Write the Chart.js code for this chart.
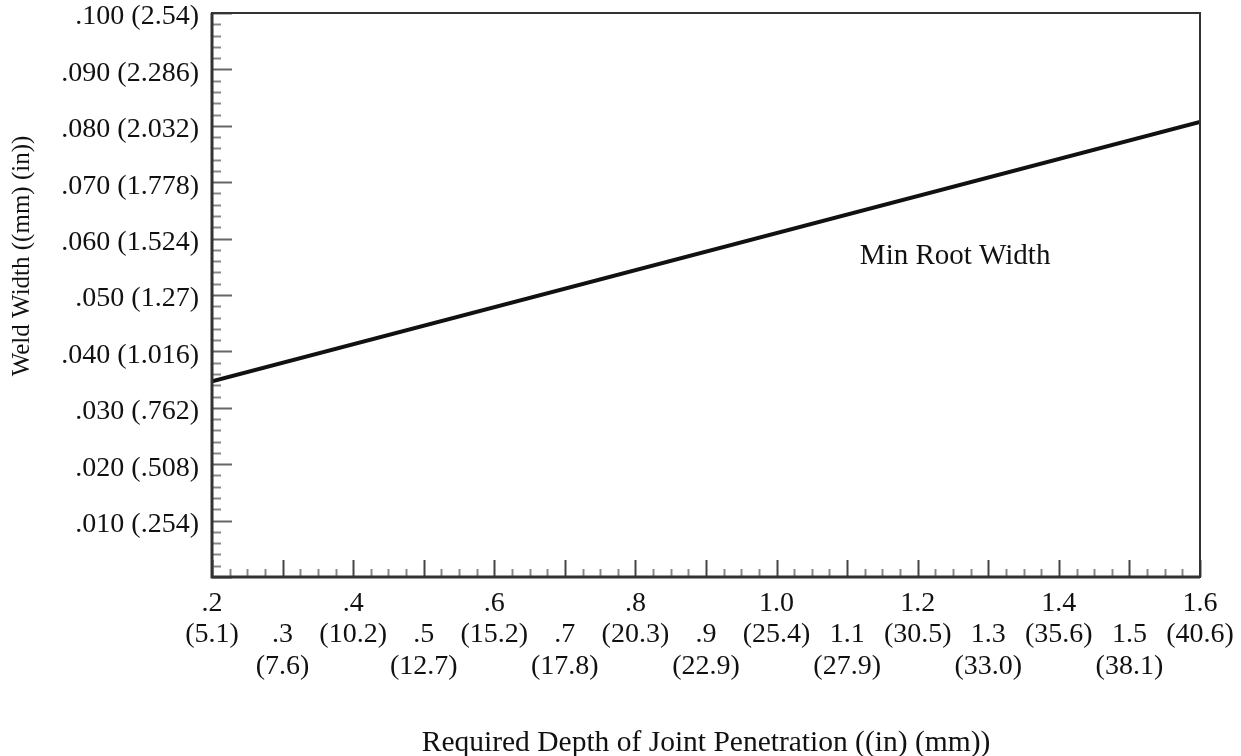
<!DOCTYPE html>
<html>
<head>
<meta charset="utf-8">
<script src="https://cdn.jsdelivr.net/npm/chart.js@4"></script>
<style>
  body { margin: 0; background: #fff; }
  #wrap { width: 1241px; height: 756px; }
</style>
</head>
<body>
<div id="wrap"><canvas id="weldChart"></canvas></div>
<script>
// data
const depthIn = [0.2, 1.6];
const minRootWidth = [0.0347, 0.0807];

const xTickIn = ['.2', '.3', '.4', '.5', '.6', '.7', '.8', '.9', '1.0', '1.1', '1.2', '1.3', '1.4', '1.5', '1.6'];
const xTickMm = ['(5.1)', '(7.6)', '(10.2)', '(12.7)', '(15.2)', '(17.8)', '(20.3)', '(22.9)', '(25.4)', '(27.9)', '(30.5)', '(33.0)', '(35.6)', '(38.1)', '(40.6)'];
const yTickLabels = ['', '.010 (.254)', '.020 (.508)', '.030 (.762)', '.040 (1.016)', '.050 (1.27)', '.060 (1.524)', '.070 (1.778)', '.080 (2.032)', '.090 (2.286)', '.100 (2.54)'];

const serif = '"Liberation Serif", "DejaVu Serif", serif';

// frame + inward tick marks, all placed through the scales
const frameTicks = {
  id: 'frameTicks',
  afterDraw(chart) {
    const ctx = chart.ctx;
    const a = chart.chartArea;
    const xs = chart.scales.x, ys = chart.scales.y;
    ctx.save();
    ctx.lineCap = 'butt';
    // x ticks
    for (let i = 0; i <= 56; i++) {
      const v = 0.2 + i * 0.025;
      const px = Math.round(xs.getPixelForValue(v)) + 0.5;
      const major = i % 4 === 0;
      ctx.strokeStyle = major ? '#444' : '#888';
      ctx.lineWidth = 2;
      ctx.beginPath();
      ctx.moveTo(px, a.bottom);
      ctx.lineTo(px, a.bottom - (major ? 17 : 8));
      ctx.stroke();
    }
    // y ticks
    for (let i = 0; i <= 50; i++) {
      const v = i * 0.002;
      const py = Math.round(ys.getPixelForValue(v)) + 0.5;
      const major = i % 5 === 0;
      ctx.strokeStyle = major ? '#666' : '#888';
      ctx.lineWidth = 2;
      ctx.beginPath();
      ctx.moveTo(a.left, py);
      ctx.lineTo(a.left + (major ? 20 : 9), py);
      ctx.stroke();
    }
    // frame
    ctx.strokeStyle = '#333';
    ctx.lineWidth = 2;
    ctx.strokeRect(a.left, a.top, a.right - a.left, a.bottom - a.top);
    ctx.lineWidth = 3;
    ctx.beginPath();
    ctx.moveTo(a.left, a.top);
    ctx.lineTo(a.left, a.bottom);
    ctx.lineTo(a.right, a.bottom);
    ctx.stroke();
    // series label
    ctx.fillStyle = '#111';
    ctx.font = '29px ' + serif;
    ctx.textBaseline = 'middle';
    ctx.textAlign = 'left';
    ctx.fillText('Min Root Width', xs.getPixelForValue(1.118), ys.getPixelForValue(0.0569));
    // y axis title
    ctx.translate(22, 256);
    ctx.rotate(-Math.PI / 2);
    ctx.textAlign = 'center';
    ctx.font = '25px ' + serif;
    ctx.fillText('Weld Width ((mm) (in))', 0, 0);
    ctx.restore();
  }
};

new Chart(document.getElementById('weldChart'), {
  type: 'line',
  data: {
    datasets: [{
      label: 'Min Root Width',
      data: depthIn.map((d, i) => ({ x: d, y: minRootWidth[i] })),
      borderColor: '#111',
      borderWidth: 4,
      pointRadius: 0,
      fill: false
    }]
  },
  options: {
    responsive: true,
    maintainAspectRatio: false,
    animation: false,
    layout: { padding: { top: 13, right: 41, left: 0, bottom: 0 } },
    plugins: { legend: { display: false }, tooltip: { enabled: false } },
    scales: {
      x: {
        type: 'linear',
        min: 0.2,
        max: 1.6,
        afterFit(s) { s.height = 179; s.paddingLeft = 0; s.paddingRight = 0; },
        grid: { display: false },
        border: { display: false },
        ticks: {
          stepSize: 0.1,
          autoSkip: false,
          maxRotation: 0,
          padding: 3,
          color: '#111',
          font: { family: serif, size: 28, lineHeight: 1.12 },
          callback(v, i) {
            return i % 2 === 0 ? [xTickIn[i], xTickMm[i]] : ['', xTickIn[i], xTickMm[i]];
          }
        },
        title: {
          display: true,
          text: 'Required Depth of Joint Penetration ((in) (mm))',
          color: '#111',
          font: { family: serif, size: 29.5, lineHeight: 0.85 },
          padding: { top: 0, bottom: 0 }
        }
      },
      y: {
        min: 0,
        max: 0.1,
        afterFit(s) { s.width = 212; s.paddingTop = 0; s.paddingBottom = 0; },
        grid: { display: false },
        border: { display: false },
        ticks: {
          stepSize: 0.01,
          padding: 5,
          labelOffset: 4,
          color: '#111',
          font: { family: serif, size: 28 },
          callback(v, i) { return yTickLabels[i]; }
        }
      }
    }
  },
  plugins: [frameTicks]
});
</script>
</body>
</html>
